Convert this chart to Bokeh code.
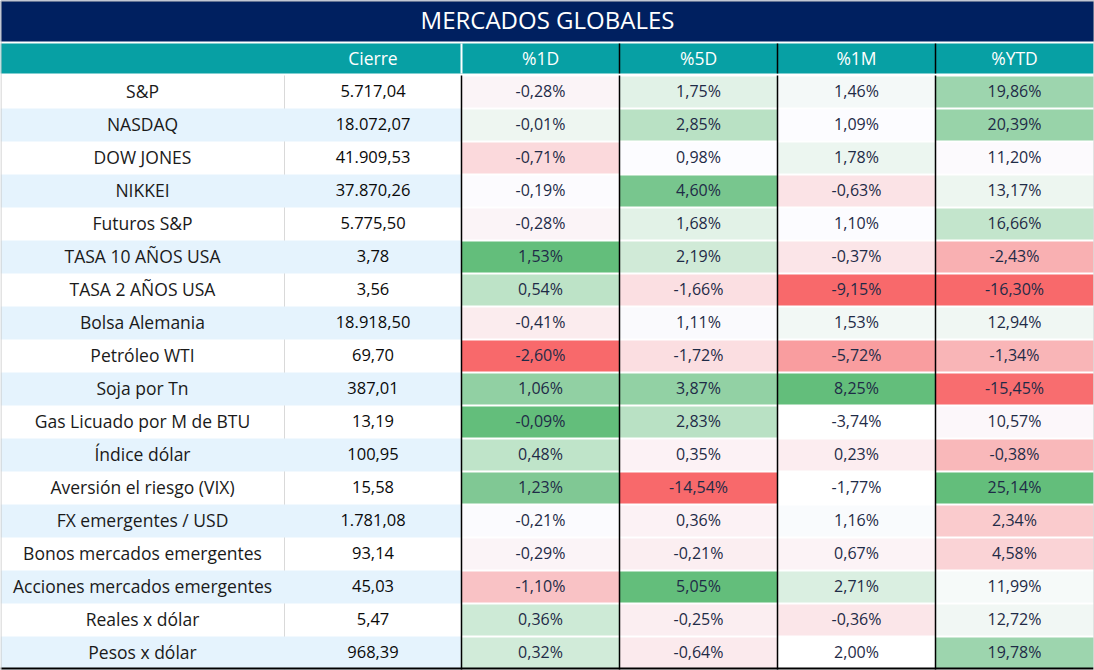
from bokeh.plotting import figure
from bokeh.models import Range1d, ColumnDataSource
from bokeh.core.properties import value
from bokeh.embed import file_html
from bokeh.resources import INLINE

# ---------------- data ----------------
title = "MERCADOS GLOBALES"
headers = ["Cierre", "%1D", "%5D", "%1M", "%YTD"]
labels = ["S&P", "NASDAQ", "DOW JONES", "NIKKEI", "Futuros S&P", "TASA 10 AÑOS USA",
          "TASA 2 AÑOS USA", "Bolsa Alemania", "Petróleo WTI", "Soja por Tn",
          "Gas Licuado por M de BTU", "Índice dólar", "Aversión el riesgo (VIX)",
          "FX emergentes / USD", "Bonos mercados emergentes", "Acciones mercados emergentes",
          "Reales x dólar", "Pesos x dólar"]
cierre = [5717.04, 18072.07, 41909.53, 37870.26, 5775.50, 3.78, 3.56, 18918.50, 69.70,
          387.01, 13.19, 100.95, 15.58, 1781.08, 93.14, 45.03, 5.47, 968.39]
pct_1d = [-0.28, -0.01, -0.71, -0.19, -0.28, 1.53, 0.54, -0.41, -2.60, 1.06, -0.09, 0.48,
          1.23, -0.21, -0.29, -1.10, 0.36, 0.32]
pct_5d = [1.75, 2.85, 0.98, 4.60, 1.68, 2.19, -1.66, 1.11, -1.72, 3.87, 2.83, 0.35,
          -14.54, 0.36, -0.21, 5.05, -0.25, -0.64]
pct_1m = [1.46, 1.09, 1.78, -0.63, 1.10, -0.37, -9.15, 1.53, -5.72, 8.25, -3.74, 0.23,
          -1.77, 1.16, 0.67, 2.71, -0.36, 2.00]
pct_ytd = [19.86, 20.39, 11.20, 13.17, 16.66, -2.43, -16.30, 12.94, -1.34, -15.45, 10.57,
           -0.38, 25.14, 2.34, 4.58, 11.99, 12.72, 19.78]

# cell fill colours (conditional formatting)
col_1d = ["#FBF4F7", "#EEF6F1", "#FBD9DC", "#FCFBFE", "#FBF4F7", "#63BE7B", "#BDE3C7",
          "#FBECEE", "#F8696B", "#91D0A3", "#63BE7B", "#BFE4C9", "#80C894", "#FBFBFE",
          "#FBF4F7", "#F9C2C5", "#CDEAD6", "#D1EBD9"]
col_5d = ["#E1F2E7", "#B9E1C4", "#FCFCFF", "#78C68E", "#E2F2E7", "#D0EAD7", "#FBDFE2",
          "#FAFAFD", "#FBDEE1", "#92D1A4", "#B9E1C4", "#FCF2F5", "#F8696B", "#FCF2F5",
          "#FBEEF1", "#63BE7B", "#FBEEF1", "#FBEAED"]
col_1m = ["#F4F9F8", "#FCFCFF", "#ECF6F0", "#FBE3E6", "#FCFCFF", "#FBE5E8", "#F8696B",
          "#F2F8F5", "#F99D9F", "#63BE7B", "#FFFFFF", "#FCEDF0", "#FFFFFF", "#F9FBFD",
          "#FCF3F6", "#DAEFE1", "#FBE6E9", "#FFFFFF"]
col_ytd = ["#9DD5AE", "#98D3A9", "#FCFAFD", "#EDF6F0", "#C3E5CC", "#F9B0B2", "#F8696B",
           "#F0F7F3", "#F9B5B7", "#F86D6F", "#FCF7FA", "#F9B8BA", "#63BE7B", "#FACBCD",
           "#FAD3D6", "#F6FAF9", "#F1F7F4", "#9DD5AE"]

# ---------------- layout constants ----------------
W, H = 1094, 670
col_edges = [0, 284, 461, 619, 777, 935, 1093]
row_top0 = 75
row_h = 33
n = len(labels)

NAVY = "#002060"
TEAL = "#07A0A4"
LIGHT = "#E5F3FD"
FONT = "Open Sans"


def fmt_num(v):
    s = f"{v:,.2f}"
    return s.replace(",", "X").replace(".", ",").replace("X", ".")


def fmt_pct(v):
    return f"{v:.2f}%".replace(".", ",")


p = figure(width=W, height=H, x_range=Range1d(0, W), y_range=Range1d(H, 0),
           output_backend="svg", toolbar_location=None, min_border=0,
           x_axis_location=None, y_axis_location=None)
p.grid.visible = False
p.outline_line_color = None
p.background_fill_color = "white"
p.border_fill_color = "white"

# title bar
p.quad(left=[0], right=[W], top=[0], bottom=[41], fill_color=NAVY, line_color=None)
p.text(x=[W / 2], y=[19], text=[title], text_color="white", text_font=value(FONT),
       text_font_size="24px", text_align="center", text_baseline="middle")

# header bar
p.quad(left=[0], right=[W - 1], top=[43], bottom=[73], fill_color=TEAL, line_color=None)
hx = [(col_edges[i] + col_edges[i + 1]) / 2 for i in range(1, 6)]
p.text(x=hx, y=[57] * 5, text=headers, text_color="white", text_font=value(FONT),
       text_font_size="17.5px", text_align="center", text_baseline="middle")
p.segment(x0=[461], x1=[461], y0=[43], y1=[73], line_color="white", line_width=2)
p.segment(x0=col_edges[3:6], x1=col_edges[3:6], y0=[43] * 3, y1=[73] * 3,
          line_color="black", line_width=1.5)

# rows: label + cierre area
tops = [row_top0 + i * row_h for i in range(n)]
bots = [t + row_h for t in tops]
mids = [t + row_h / 2 - 1.5 for t in tops]
bottom_y = row_top0 + n * row_h

p.segment(x0=[284], x1=[284], y0=[row_top0], y1=[bottom_y], line_color="#D9D9D9", line_width=1)
blue_idx = [i for i in range(n) if i % 2 == 1]
p.quad(left=[0] * len(blue_idx), right=[461] * len(blue_idx),
       top=[tops[i] for i in blue_idx], bottom=[bots[i] for i in blue_idx],
       fill_color=LIGHT, line_color=None)

p.text(x=[142] * n, y=mids, text=labels, text_color="#1A1A1A", text_font=value(FONT),
       text_font_size="17.5px", text_align="center", text_baseline="middle")
p.text(x=[372.5] * n, y=mids, text=[fmt_num(v) for v in cierre], text_color="#0A0A0A",
       text_font=value(FONT), text_font_size="16.5px",
       text_align="center", text_baseline="middle")

# percentage columns
pct_cols = [pct_1d, pct_5d, pct_1m, pct_ytd]
clr_cols = [col_1d, col_5d, col_1m, col_ytd]
for k in range(4):
    l, r = col_edges[k + 2], col_edges[k + 3]
    src = ColumnDataSource(dict(
        left=[l] * n, right=[r] * n,
        top=[t + 1 for t in tops], bottom=[b - 1 for b in bots],
        color=clr_cols[k], x=[(l + r) / 2] * n, y=mids,
        txt=[fmt_pct(v) for v in pct_cols[k]]))
    p.quad(left="left", right="right", top="top", bottom="bottom", fill_color="color",
           line_color=None, source=src)
    p.text(x="x", y="y", text="txt", source=src, text_color="#1F2B47",
           text_font=value(FONT), text_font_size="16px", text_align="center",
           text_baseline="middle")

# vertical black separators
p.segment(x0=col_edges[2:6], x1=col_edges[2:6], y0=[row_top0] * 4, y1=[bottom_y] * 4,
          line_color="black", line_width=1.5)
# bottom rule
p.segment(x0=[0], x1=[W - 1], y0=[bottom_y - 1], y1=[bottom_y - 1], line_color="black",
          line_width=2)
# outer light border
p.segment(x0=[0.5, W - 0.5, 0], x1=[0.5, W - 0.5, W], y0=[0, 0, 0.5], y1=[H, H, 0.5],
          line_color="#C8C8C8", line_width=1)

html = file_html(p, INLINE)
html = html.replace("<head>", "<head><style>html,body{margin:0;padding:0;overflow:hidden;}</style>", 1)
open("out.html", "w").write(html)
